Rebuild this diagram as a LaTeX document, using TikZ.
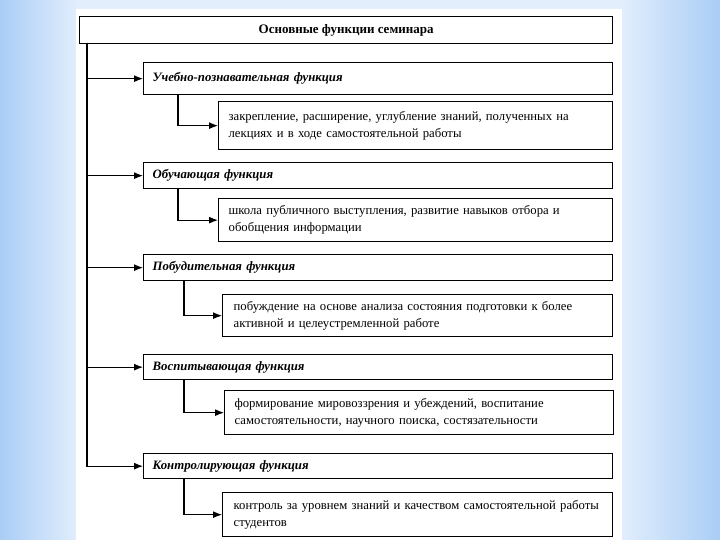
\documentclass[tikz,border=0pt]{standalone}
\usepackage{fontspec}
\setmainfont{Liberation Serif}
\usetikzlibrary{arrows.meta}
\definecolor{bgside}{RGB}{170,205,246}
\definecolor{bgmid}{RGB}{226,238,252}
\tikzset{
	fbox/.style={draw, line width=1.3pt, anchor=north west, inner xsep=9pt, inner ysep=0pt, align=left, font=\fontsize{12.8}{17}\selectfont\bfseries\itshape},
	dbox/.style={draw, line width=1.3pt, anchor=north west, inner xsep=10pt, inner ysep=0pt, align=left, font=\fontsize{12.7}{17}\selectfont},
	arr/.style={line width=1.1pt, -{Latex[length=9pt,width=7pt]}}
}
\begin{document}
\begin{tikzpicture}[x=1pt,y=-1pt]
	\useasboundingbox (0,0) rectangle (720,540);
	% background
	\fill[bgmid] (0,0) rectangle (720,540);
	\shade[left color=bgside, right color=bgmid] (0,0) rectangle (78,540);
	\shade[left color=bgmid, right color=bgside] (621,0) rectangle (720,540);
	\fill[white] (76,9) rectangle (622,540);

	\node[draw, line width=1.3pt, anchor=north west, minimum width=533pt, minimum height=27pt, font=\fontsize{13}{15}\selectfont\bfseries] (top) at (79,16) {Основные функции семинара};

	\node[fbox, text width=451pt, minimum height=32pt] (f1) at (143,62) {Учебно-познавательная функция};
	\node[dbox, text width=374pt, minimum height=48pt] (d1) at (218,101) {закрепление, расширение, углубление знаний, полученных на\\лекциях и в ходе самостоятельной работы};

	\node[fbox, text width=451pt, minimum height=26pt] (f2) at (143,162) {Обучающая функция};
	\node[dbox, text width=374pt, minimum height=43pt] (d2) at (218,198) {школа публичного выступления, развитие навыков отбора и\\обобщения информации};

	\node[fbox, text width=451pt, minimum height=26pt] (f3) at (143,254) {Побудительная функция};
	\node[dbox, inner xsep=11pt, text width=368pt, minimum height=42pt] (d3) at (222,294) {побуждение на основе анализа состояния подготовки к более\\активной и целеустремленной работе};

	\node[fbox, text width=451pt, minimum height=25pt] (f4) at (143,354) {Воспитывающая функция};
	\node[dbox, text width=369pt, minimum height=44pt] (d4) at (224,390) {формирование мировоззрения и убеждений, воспитание\\самостоятельности, научного поиска, состязательности};

	\node[fbox, text width=451pt, minimum height=25pt] (f5) at (143,453) {Контролирующая функция};
	\node[dbox, inner xsep=11pt, text width=368pt, minimum height=44pt] (d5) at (222,492) {контроль за уровнем знаний и качеством самостоятельной работы\\студентов};

	% connectors
	\coordinate (spine) at (87,43);
	\foreach \n in {1,...,5}
		\draw[arr] (spine) |- (f\n.west);
	\draw[arr] ([xshift=35pt]f1.south west) |- (d1.west);
	\draw[arr] ([xshift=35pt]f2.south west) |- (d2.west);
	\draw[arr] ([xshift=41pt]f3.south west) |- (d3.west);
	\draw[arr] ([xshift=41pt]f4.south west) |- (d4.west);
	\draw[arr] ([xshift=41pt]f5.south west) |- (d5.west);
\end{tikzpicture}
\end{document}
